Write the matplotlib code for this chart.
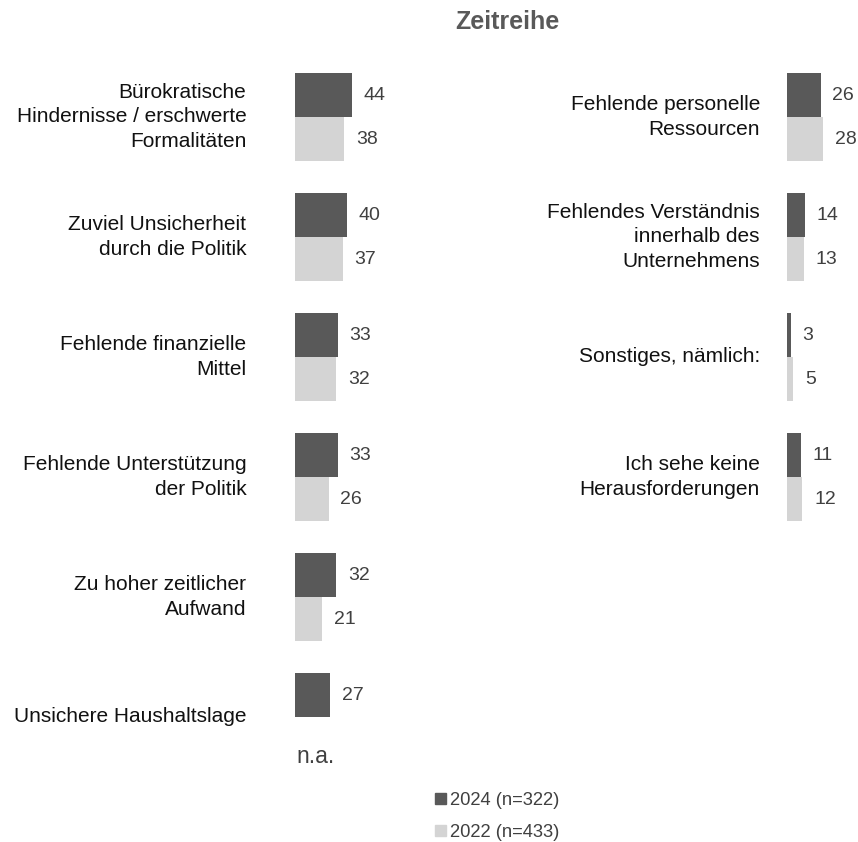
import matplotlib.pyplot as plt
from matplotlib.patches import Patch

plt.rcParams['font.family'] = ['Liberation Sans', 'DejaVu Sans']

# Daten
left_labels = [
    "Bürokratische\nHindernisse / erschwerte\nFormalitäten",
    "Zuviel Unsicherheit\ndurch die Politik",
    "Fehlende finanzielle\nMittel",
    "Fehlende Unterstützung\nder Politik",
    "Zu hoher zeitlicher\nAufwand",
    "Unsichere Haushaltslage",
]
left_2024 = [44, 40, 33, 33, 32, 27]
left_2022 = [38, 37, 32, 26, 21, None]

right_labels = [
    "Fehlende personelle\nRessourcen",
    "Fehlendes Verständnis\ninnerhalb des\nUnternehmens",
    "Sonstiges, nämlich:",
    "Ich sehe keine\nHerausforderungen",
]
right_2024 = [26, 14, 3, 11]
right_2022 = [28, 13, 5, 12]

series_names = ["2024 (n=322)", "2022 (n=433)"]
title = "Zeitreihe"

DARK = "#595959"
LIGHT = "#d4d4d4"
TXT = "#404040"

W, H = 858, 842
PX_PER_UNIT = 1.29
ROW_PX = 120
ROW0_PX = 117  # Grenze zwischen den beiden Balken in Zeile 0
BAR_H = 44 / ROW_PX

fig = plt.figure(figsize=(W / 100, H / 100), dpi=100)


def make_axes(x0_px, units):
    top_px, bot_px = 60, 780
    ax = fig.add_axes([x0_px / W, 1 - bot_px / H, units * PX_PER_UNIT / W, (bot_px - top_px) / H])
    ax.set_xlim(0, units)
    ax.set_ylim((bot_px - ROW0_PX) / ROW_PX, (top_px - ROW0_PX) / ROW_PX)
    ax.axis("off")
    return ax


def draw_panel(ax, labels, v24, v22, label_off):
    rows = list(range(len(labels)))
    for i in rows:
        ax.barh(i - BAR_H / 2, v24[i], height=BAR_H, color=DARK)
        ax.annotate(str(v24[i]), (v24[i], i - BAR_H / 2), xytext=(8.5, 0), textcoords="offset points",
                    ha="left", va="center", fontsize=14, color=TXT, annotation_clip=False)
        if v22[i] is None:
            ax.annotate("n.a.", (0, i + 0.333), xytext=(15, 0), textcoords="offset points",
                        ha="center", va="center", fontsize=16.5, color=TXT, annotation_clip=False)
        else:
            ax.barh(i + BAR_H / 2, v22[i], height=BAR_H, color=LIGHT)
            ax.annotate(str(v22[i]), (v22[i], i + BAR_H / 2), xytext=(8.5, 0), textcoords="offset points",
                        ha="left", va="center", fontsize=14, color=TXT, annotation_clip=False)
        ax.annotate(labels[i], (0, i), xytext=(-label_off, 0), textcoords="offset points",
                    ha="right", va="center", fontsize=15, color="#111111", linespacing=1.35,
                    annotation_clip=False)


ax_l = make_axes(295, 100)
draw_panel(ax_l, left_labels, left_2024, left_2022, 35)
ax_r = make_axes(787, 50)
draw_panel(ax_r, right_labels, right_2024, right_2022, 19.5)

fig.text(507 / W, 1 - 22 / H, title, ha="center", va="center", fontsize=18,
         fontweight="bold", color=DARK)

handles = [Patch(color=DARK), Patch(color=LIGHT)]
leg = fig.legend(handles, series_names, loc="upper left", bbox_to_anchor=(435 / W, 1 - 792 / H),
                 frameon=False, fontsize=13.2, handlelength=0.6, handleheight=0.6,
                 handletextpad=0.2, labelspacing=0.82, borderpad=0, borderaxespad=0)
for t in leg.get_texts():
    t.set_color(TXT)

fig.savefig("out.png", dpi=100)
